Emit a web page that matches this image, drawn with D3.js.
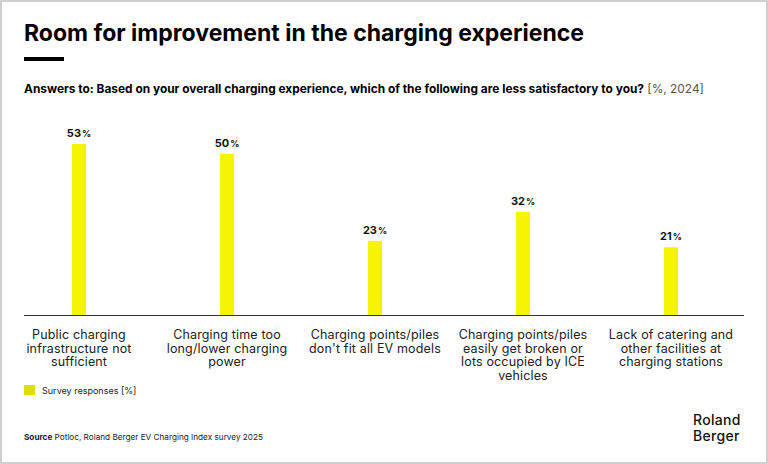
<!DOCTYPE html>
<html>
<head>
<meta charset="utf-8">
<script src="https://cdn.jsdelivr.net/npm/d3@7"></script>
<style>
  body { margin: 0; background: #fff; }
  text { font-family: Inter, "Noto Sans", sans-serif; }
</style>
</head>
<body>
<div id="chart"></div>
<script>
var categories = [
  ["Public charging", "infrastructure not", "sufficient"],
  ["Charging time too", "long/lower charging", "power"],
  ["Charging points/piles", "don't fit all EV models"],
  ["Charging points/piles", "easily get broken or", "lots occupied by ICE", "vehicles"],
  ["Lack of catering and", "other facilities at", "charging stations"]
];
var values = [53, 50, 23, 32, 21];
var seriesName = "Survey responses [%]";

var svgWidth = 768;
var svgHeight = 464;
var baseline = 315;

var svg = d3.select("#chart")
  .append("svg")
  .attr("width", svgWidth)
  .attr("height", svgHeight);

// frame
svg.append("rect")
  .attr("x", 1).attr("y", 1)
  .attr("width", svgWidth - 2).attr("height", svgHeight - 2)
  .attr("fill", "#fff")
  .attr("stroke", "#cfcfcf")
  .attr("stroke-width", 2);

// title + rule
svg.append("text")
  .attr("x", 24).attr("y", 41)
  .attr("font-size", 23)
  .attr("font-weight", 700)
  .attr("fill", "#000")
  .text("Room for improvement in the charging experience");

svg.append("rect")
  .attr("x", 24).attr("y", 57)
  .attr("width", 40).attr("height", 4)
  .attr("fill", "#000");

var sub = svg.append("text")
  .attr("x", 24).attr("y", 93)
  .attr("font-size", 11.9)
  .attr("fill", "#000");
sub.append("tspan")
  .attr("font-weight", 700)
  .text("Answers to: Based on your overall charging experience, which of the following are less satisfactory to you?");
sub.append("tspan")
  .attr("fill", "#555")
  .text(" [%, 2024]");

// scales
var x = d3.scaleBand()
  .domain(d3.range(values.length))
  .range([5, 745])
  .padding(0);

var y = d3.scaleLinear()
  .domain([0, d3.max(values)])
  .range([baseline, 144]);

var barWidth = 14;

var bars = svg.append("g").selectAll("g")
  .data(values)
  .enter()
  .append("g")
  .attr("transform", function(d, i) {
    return "translate(" + (x(i) + x.bandwidth() / 2) + ",0)";
  });

bars.append("rect")
  .attr("x", -barWidth / 2)
  .attr("y", d => y(d))
  .attr("width", barWidth)
  .attr("height", d => baseline - y(d))
  .attr("fill", "#f5f500");

var lab = bars.append("text")
  .attr("y", d => y(d) - 7)
  .attr("text-anchor", "middle")
  .attr("font-size", 11)
  .attr("font-weight", 700)
  .attr("fill", "#111");
lab.append("tspan").text(d => d);
lab.append("tspan").attr("font-size", 9).attr("dx", 1).text("%");

// axis line
svg.append("line")
  .attr("x1", 24).attr("x2", 744)
  .attr("y1", baseline + 0.5).attr("y2", baseline + 0.5)
  .attr("stroke", "#333")
  .attr("stroke-width", 1);

// category labels
var cat = svg.append("g").selectAll("text")
  .data(categories)
  .enter()
  .append("text")
  .attr("x", (d, i) => x(i) + x.bandwidth() / 2)
  .attr("y", 339)
  .attr("text-anchor", "middle")
  .attr("font-size", 12.5)
  .attr("letter-spacing", 0.15)
  .attr("fill", "#222");
cat.selectAll("tspan")
  .data(d => d)
  .enter()
  .append("tspan")
  .attr("x", function() { return d3.select(this.parentNode).attr("x"); })
  .attr("dy", (d, i) => i === 0 ? 0 : 13.7)
  .text(d => d);

// legend
svg.append("rect")
  .attr("x", 24).attr("y", 385)
  .attr("width", 11).attr("height", 10)
  .attr("fill", "#dede00");
svg.append("text")
  .attr("x", 42).attr("y", 393.5)
  .attr("font-size", 9)
  .attr("fill", "#222")
  .text(seriesName);

// source
var src = svg.append("text")
  .attr("x", 24).attr("y", 440)
  .attr("font-size", 8.2)
  .attr("fill", "#222");
src.append("tspan").attr("font-weight", 700).text("Source");
src.append("tspan").text(" Potloc, Roland Berger EV Charging Index survey 2025");

// logo
var logo = svg.append("text")
  .attr("x", 693).attr("y", 425)
  .attr("font-size", 14)
  .attr("font-weight", 500)
  .attr("letter-spacing", 0.3)
  .attr("fill", "#111");
logo.append("tspan").attr("x", 693).text("Roland");
logo.append("tspan").attr("x", 693).attr("dy", 15.5).text("Berger");
</script>
</body>
</html>
